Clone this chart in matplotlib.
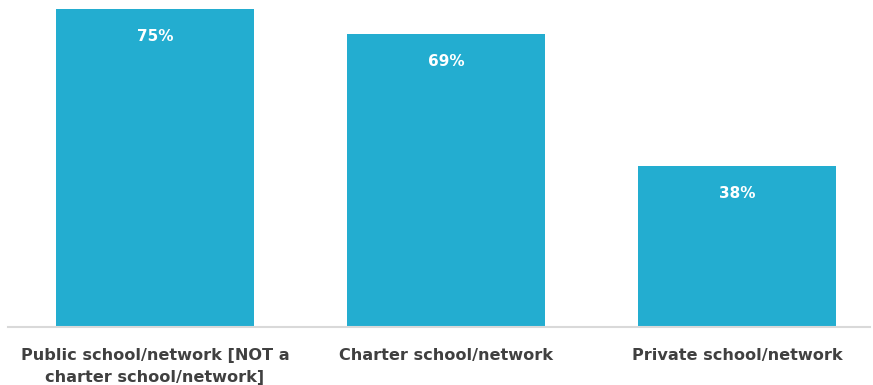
import matplotlib.pyplot as plt

categories = ["Public school/network [NOT a\ncharter school/network]",
              "Charter school/network",
              "Private school/network"]
values = [75, 69, 38]

bar_color = "#23ADD0"
text_color = "#404040"

fig = plt.figure(figsize=(8.73, 3.85), dpi=100)
ax = fig.add_axes([8 / 873, 58 / 385, 862 / 873, 327 / 385])

x = range(len(values))
bars = ax.bar(x, values, width=0.68, color=bar_color)

for xi, v in zip(x, values):
    ax.text(xi, v - 6.5, f"{v}%", ha="center", va="center",
            color="white", fontsize=11, fontweight="bold")

ax.set_xlim(-0.505, 2.457)
ax.set_ylim(0, 77.1)
ax.set_yticks([])
ax.set_xticks(list(x))
ax.set_xticklabels(categories, fontsize=11.6, fontweight="bold",
                   color=text_color, linespacing=1.6)
ax.tick_params(axis="x", length=0, pad=15)

for side in ["top", "left", "right"]:
    ax.spines[side].set_visible(False)
ax.spines["bottom"].set_color("#d9d9d9")
ax.spines["bottom"].set_linewidth(1.5)

fig.savefig("out.png", dpi=100)
